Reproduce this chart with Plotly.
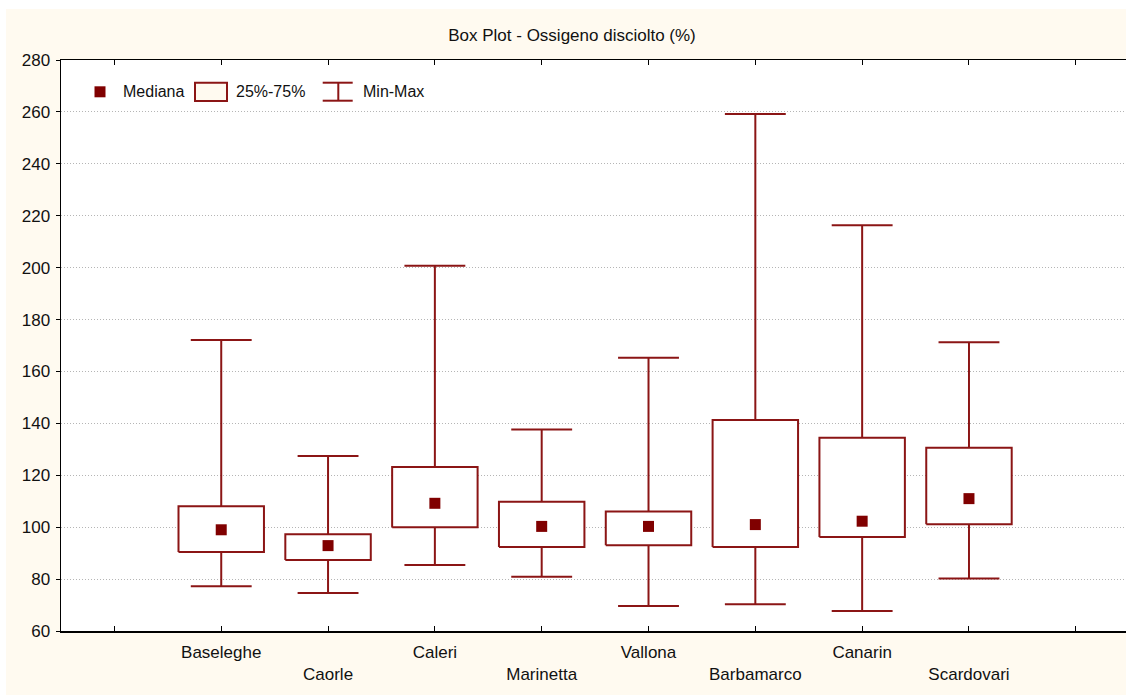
import plotly.graph_objects as go

# ---- data ----
stations = ["Baseleghe", "Caorle", "Caleri", "Marinetta", "Vallona", "Barbamarco", "Canarin", "Scardovari"]
minimum = [77.2, 74.6, 85.4, 80.9, 69.6, 70.3, 67.7, 80.2]
q1 = [90.4, 87.4, 100.0, 92.4, 93.0, 92.4, 96.2, 101.1]
median = [99.0, 92.9, 109.2, 100.3, 100.3, 101.0, 102.3, 111.0]
q3 = [108.1, 97.3, 123.2, 109.8, 106.0, 141.3, 134.5, 130.6]
maximum = [172.1, 127.4, 200.7, 137.6, 165.3, 259.2, 216.3, 171.3]
y_ticks = [60, 80, 100, 120, 140, 160, 180, 200, 220, 240, 260, 280]

title_text = "Box Plot - Ossigeno disciolto (%)"
legend_labels = ["Mediana", "25%-75%", "Min-Max"]

# ---- styling ----
W, H = 1126, 695
ML, MR, MT, MB = 61, 0, 60, 64
PW, PH = W - ML - MR, H - MT - MB
LINE = "#8b1515"
MED = "#800000"
CREAM = "#fffaf0"
FONT = "Liberation Sans, Arial, sans-serif"
BOX_HALF = 0.4
CAP_HALF = 0.285


def px(xp):
    return (xp - ML) / PW


def py(yp):
    return (H - MB - yp) / PH


xs = list(range(len(stations)))

# box outlines
bx, by = [], []
for i, (a, b) in enumerate(zip(q1, q3)):
    bx += [i - BOX_HALF, i + BOX_HALF, i + BOX_HALF, i - BOX_HALF, i - BOX_HALF, None]
    by += [a, a, b, b, a, None]

# whiskers and caps
wx, wy = [], []
for i in xs:
    wx += [i, i, None, i, i, None]
    wy += [q3[i], maximum[i], None, q1[i], minimum[i], None]
    wx += [i - CAP_HALF, i + CAP_HALF, None, i - CAP_HALF, i + CAP_HALF, None]
    wy += [maximum[i], maximum[i], None, minimum[i], minimum[i], None]

fig = go.Figure()
fig.add_trace(go.Scatter(x=wx, y=wy, mode="lines", line=dict(color=LINE, width=2),
                         hoverinfo="skip", showlegend=False))
fig.add_trace(go.Scatter(x=bx, y=by, mode="lines", line=dict(color=LINE, width=2),
                         fill="toself", fillcolor="white", hoverinfo="skip", showlegend=False))
fig.add_trace(go.Scatter(x=xs, y=median, mode="markers",
                         marker=dict(symbol="square", size=11, color=MED, line=dict(width=0)),
                         showlegend=False))

ticktext = [""] + [("<br>" + s) if k % 2 else s for k, s in enumerate(stations)] + [""]

shapes = [
    # white strips at top-left of the reference picture
    dict(type="rect", xref="paper", yref="paper", x0=px(-2), x1=px(6), y0=py(H + 2), y1=py(-2),
         fillcolor="white", line=dict(width=0), layer="below"),
    dict(type="rect", xref="paper", yref="paper", x0=px(-2), x1=px(W + 5), y0=py(9), y1=py(-2),
         fillcolor="white", line=dict(width=0), layer="below"),
    # custom legend glyphs
    dict(type="rect", xref="paper", yref="paper", x0=px(94.5), x1=px(105.5), y0=py(97.3), y1=py(86.3),
         fillcolor=MED, line=dict(width=0)),
    dict(type="rect", xref="paper", yref="paper", x0=px(195), x1=px(227), y0=py(101), y1=py(82.7),
         fillcolor=CREAM, line=dict(color=LINE, width=2)),
    dict(type="line", xref="paper", yref="paper", x0=px(322.7), x1=px(352.7), y0=py(82.7), y1=py(82.7),
         line=dict(color=LINE, width=2)),
    dict(type="line", xref="paper", yref="paper", x0=px(322.7), x1=px(352.7), y0=py(100.7), y1=py(100.7),
         line=dict(color=LINE, width=2)),
    dict(type="line", xref="paper", yref="paper", x0=px(338.3), x1=px(338.3), y0=py(82.7), y1=py(100.7),
         line=dict(color=LINE, width=2)),
]

annotations = []
for lbl, xl in zip(legend_labels, [121, 234, 361]):
    annotations.append(dict(text=lbl, xref="paper", yref="paper", x=px(xl), y=py(91.8),
                            xanchor="left", yanchor="middle", showarrow=False,
                            font=dict(family=FONT, size=16, color="#111111")))

fig.update_layout(
    width=W, height=H,
    margin=dict(l=ML, r=MR, t=MT, b=MB),
    paper_bgcolor=CREAM,
    plot_bgcolor="white",
    font=dict(family=FONT, size=17, color="#111111"),
    title=dict(text=title_text, x=px(572), xref="paper", xanchor="center",
               y=1 - 35 / H, yref="container", yanchor="middle",
               font=dict(family=FONT, size=17, color="#111111")),
    showlegend=False,
    hovermode=False,
    shapes=shapes,
    annotations=annotations,
    xaxis=dict(range=[-1.5, 8.47], tickmode="array", tickvals=list(range(-1, 9)), ticktext=ticktext,
               ticks="inside", ticklen=5, tickwidth=1, tickcolor="black",
               showline=True, linecolor="black", linewidth=1.5, mirror="allticks",
               showgrid=False, zeroline=False, tickfont=dict(size=17), ticklabelstandoff=5),
    yaxis=dict(range=[60, 280], tickmode="array", tickvals=y_ticks,
               ticks="outside", ticklen=4, tickcolor="black",
               showline=True, linecolor="black", linewidth=1.5, mirror=False,
               showgrid=True, gridcolor="#b5b5b5", griddash="1px,2px", gridwidth=1,
               zeroline=False, tickfont=dict(size=17), ticklabelstandoff=2),
)

fig.write_html(
    "out.html",
    config={"displayModeBar": False, "staticPlot": True},
    post_script="document.body.style.margin='0';document.body.style.overflow='hidden';",
)
